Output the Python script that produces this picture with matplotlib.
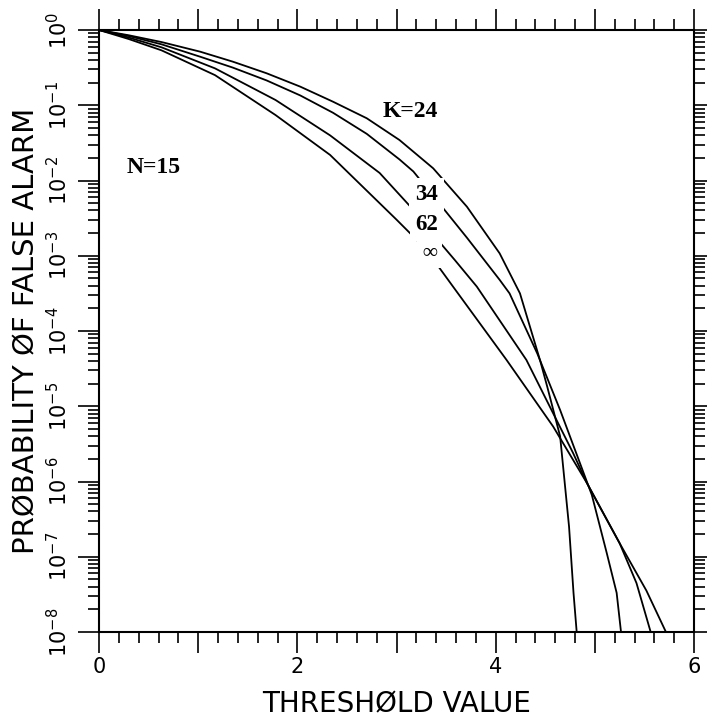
import numpy as np
import matplotlib
matplotlib.use("Agg")
import matplotlib.pyplot as plt
from matplotlib.ticker import LogLocator, MultipleLocator, NullFormatter

# curves: threshold value vs log10(probability of false alarm)
x_k24 = [0, 0.3, 0.63, 1.02, 1.35, 1.69, 2.03, 2.36, 2.70, 3.03, 3.37, 3.71, 4.04, 4.245, 4.45, 4.52, 4.65, 4.74, 4.785, 4.817]
lg_k24 = [0, -0.07, -0.16, -0.288, -0.421, -0.575, -0.753, -0.953, -1.173, -1.462, -1.838, -2.348, -2.968, -3.50, -4.40, -4.74, -5.40, -6.60, -7.48, -8.0]

x_k34 = [0, 0.3, 0.63, 1.02, 1.35, 1.69, 2.03, 2.36, 2.70, 3.03, 3.17, 3.49, 3.71, 4.04, 4.14, 4.42, 4.65, 4.82, 4.97, 5.12, 5.22, 5.264]
lg_k34 = [0, -0.08, -0.19, -0.355, -0.50, -0.67, -0.87, -1.10, -1.38, -1.72, -1.88, -2.40, -2.76, -3.32, -3.50, -4.30, -5.05, -5.65, -6.18, -6.95, -7.48, -8.0]

x_k62 = [0, 0.3, 0.63, 1.17, 1.78, 2.33, 2.83, 3.17, 3.39, 3.59, 3.81, 4.31, 4.78, 4.92, 5.25, 5.42, 5.563]
lg_k62 = [0, -0.10, -0.23, -0.51, -0.93, -1.40, -1.90, -2.39, -2.75, -3.06, -3.41, -4.385, -5.62, -6.02, -6.82, -7.35, -8.0]

x_kinf = [0, 0.3, 0.63, 1.17, 1.78, 2.33, 3.0, 3.22, 3.41, 3.57, 4.11, 4.58, 4.92, 5.25, 5.52, 5.717]
lg_kinf = [0, -0.12, -0.27, -0.60, -1.13, -1.66, -2.52, -2.81, -3.12, -3.41, -4.385, -5.27, -6.02, -6.82, -7.45, -8.0]

curves = [(x_k24, lg_k24), (x_k34, lg_k34), (x_k62, lg_k62), (x_kinf, lg_kinf)]

x_tick_labels = ['0', '', '2', '', '4', '', '6']
y_decades = [0, -1, -2, -3, -4, -5, -6, -7, -8]

fig = plt.figure(figsize=(7.07, 7.24), dpi=100)
ax = fig.add_axes([99/707, 1-632/724, 595/707, 602/724])

for xs, lg in curves:
    ax.plot(xs, 10.0**np.array(lg), color='black', lw=1.3, solid_joinstyle='round')

ax.set_yscale('log')
ax.set_xlim(0, 6)
ax.set_ylim(1e-8, 1)

ax.set_xticks(range(7))
ax.set_xticklabels(x_tick_labels)
ax.xaxis.set_minor_locator(MultipleLocator(0.2))

ax.set_yticks([10.0**d for d in y_decades])
ax.set_yticklabels([r'$10^{%d}$' % d for d in y_decades])
ax.yaxis.set_minor_locator(LogLocator(base=10, subs=np.arange(2, 10)))
ax.yaxis.set_minor_formatter(NullFormatter())

for s in ax.spines.values():
    s.set_linewidth(1.5)

ax.tick_params(which='both', direction='out', top=True, right=True, width=1.2)
ax.tick_params(which='major', length=15)
ax.tick_params(which='minor', length=8)
ax.tick_params(axis='x', labelsize=15, pad=3)
ax.tick_params(axis='y', labelsize=15, pad=5, labelrotation=90)
for lab in ax.get_yticklabels():
    lab.set_va('center')

ax.set_xlabel('THRESHØLD VALUE', fontsize=20, labelpad=10)
ax.set_ylabel('PRØBABILITY ØF FALSE ALARM', fontsize=21, labelpad=4)

# curve labels, white box leaves the break in each curve
tfont = dict(family='Liberation Serif', weight='bold', ha='center', va='center')
gap = dict(boxstyle='square,pad=0.25', fc='white', ec='none')
ax.text(3.136, 10**-1.083, 'K=24', fontsize=17, **tfont)
ax.text(0.555, 10**-1.827, 'N=15', fontsize=17, **tfont)
ax.text(3.302, 10**-2.186, '34', fontsize=16.5, bbox=gap, **tfont)
ax.text(3.307, 10**-2.591, '62', fontsize=16.5, bbox=gap, **tfont)
ax.text(3.333, 10**-2.957, '∞', fontsize=15, bbox=gap, **tfont)

fig.savefig('out.png', dpi=100)
